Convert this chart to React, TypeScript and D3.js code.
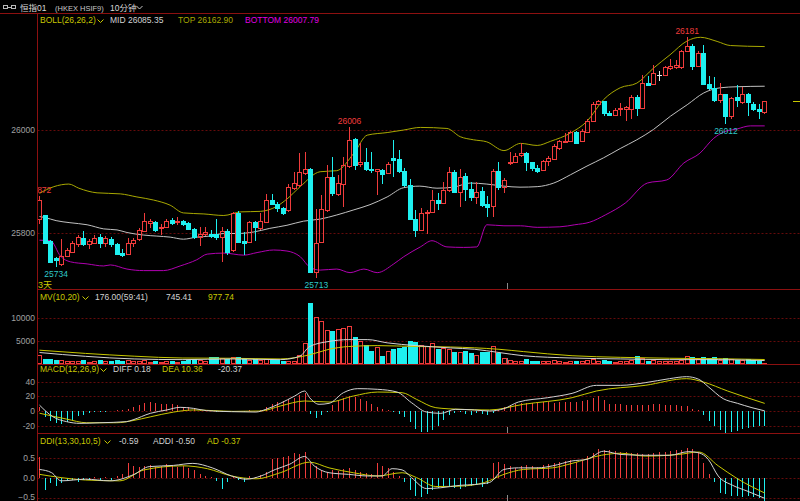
import * as d3 from 'd3'

// 10-minute candles, HSI futures (恒指01)
const OPEN = [
  25828, 25834, 25785, 25751, 25740, 25755, 25764, 25778, 25790, 25779,
  25781, 25793, 25780, 25788, 25779, 25762, 25760, 25781, 25788, 25804,
  25820, 25821, 25810, 25812, 25825, 25821, 25824, 25819, 25808, 25793,
  25799, 25799, 25798, 25792, 25804, 25767, 25838, 25785, 25783, 25822,
  25809, 25822, 25864, 25856, 25848, 25845, 25887, 25893, 25916, 25924,
  25725, 25783, 25845, 25909, 25876, 25896, 25930, 25982, 25934, 25938,
  25925, 25921, 25922, 25917, 25945, 25943, 25920, 25893, 25828, 25806,
  25838, 25841, 25865, 25859, 25883, 25919, 25880, 25911, 25885, 25870,
  25882, 25857, 25852, 25921, 25889, 25935, 25937, 25951, 25955, 25937,
  25926, 25923, 25939, 25944, 25965, 25977, 25979, 25996, 25978, 25996,
  26018, 26050, 26056, 26033, 26030, 26040, 26041, 26041, 26065, 26043,
  26091, 26089, 26106, 26106, 26120, 26122, 26122, 26153, 26164, 26125,
  26149, 26089, 26082, 26059, 26069, 26027, 26064, 26054, 26070, 26050,
  26040, 26035,
]
const HIGH = [
  25872, 25835, 25787, 25754, 25788, 25771, 25785, 25796, 25804, 25788,
  25796, 25798, 25794, 25792, 25781, 25768, 25791, 25791, 25809, 25838,
  25828, 25824, 25817, 25828, 25830, 25832, 25826, 25821, 25809, 25811,
  25812, 25806, 25828, 25812, 25807, 25841, 25843, 25802, 25824, 25824,
  25838, 25876, 25876, 25861, 25851, 25896, 25919, 25956, 25958, 25926,
  25846, 25874, 25932, 25947, 25913, 25948, 26006, 25984, 25974, 25966,
  25958, 25925, 25924, 25938, 25980, 25961, 25926, 25904, 25845, 25848,
  25845, 25883, 25878, 25900, 25929, 25922, 25924, 25917, 25900, 25900,
  25890, 25872, 25924, 25937, 25906, 25958, 25955, 25974, 25958, 25938,
  25933, 25942, 25949, 25972, 25981, 25994, 25999, 25999, 26001, 26022,
  26054, 26059, 26057, 26036, 26043, 26052, 26046, 26068, 26068, 26107,
  26104, 26126, 26114, 26124, 26137, 26135, 26156, 26181, 26167, 26153,
  26166, 26104, 26102, 26091, 26070, 26065, 26087, 26083, 26072, 26054,
  26050, 26057,
]
const LOW = [
  25817, 25779, 25741, 25734, 25735, 25753, 25762, 25773, 25775, 25768,
  25779, 25770, 25773, 25773, 25759, 25753, 25759, 25773, 25785, 25802,
  25809, 25801, 25796, 25809, 25815, 25815, 25813, 25806, 25788, 25775,
  25794, 25791, 25786, 25744, 25757, 25764, 25780, 25757, 25781, 25785,
  25806, 25820, 25854, 25841, 25835, 25841, 25884, 25890, 25913, 25725,
  25713, 25780, 25841, 25872, 25871, 25851, 25927, 25922, 25929, 25921,
  25916, 25874, 25896, 25914, 25909, 25916, 25889, 25825, 25793, 25803,
  25799, 25838, 25845, 25856, 25880, 25877, 25851, 25863, 25863, 25856,
  25850, 25832, 25832, 25883, 25878, 25932, 25935, 25948, 25921, 25921,
  25917, 25921, 25930, 25942, 25962, 25975, 25978, 25973, 25977, 25994,
  26017, 26048, 26028, 26027, 26027, 26028, 26018, 26022, 26027, 26041,
  26085, 26088, 26095, 26104, 26117, 26119, 26119, 26151, 26117, 26122,
  26087, 26078, 26054, 26052, 26012, 26022, 26044, 26050, 26027, 26036,
  26022, 26031,
]
const CLOSE = [
  25865, 25781, 25744, 25748, 25755, 25767, 25780, 25792, 25779, 25784,
  25791, 25780, 25790, 25778, 25760, 25758, 25781, 25786, 25806, 25824,
  25823, 25806, 25812, 25824, 25820, 25824, 25817, 25808, 25792, 25798,
  25802, 25795, 25792, 25804, 25764, 25839, 25783, 25781, 25822, 25811,
  25824, 25864, 25856, 25848, 25839, 25889, 25898, 25919, 25924, 25725,
  25780, 25846, 25909, 25877, 25898, 25932, 25981, 25932, 25938, 25924,
  25922, 25924, 25915, 25934, 25942, 25920, 25893, 25828, 25805, 25838,
  25841, 25865, 25859, 25883, 25919, 25880, 25909, 25885, 25869, 25880,
  25854, 25851, 25921, 25889, 25903, 25938, 25949, 25956, 25937, 25926,
  25921, 25939, 25946, 25968, 25979, 25979, 25996, 25975, 25999, 26018,
  26050, 26056, 26033, 26030, 26038, 26043, 26044, 26065, 26043, 26091,
  26088, 26111, 26106, 26122, 26124, 26126, 26154, 26164, 26124, 26149,
  26089, 26082, 26059, 26069, 26028, 26062, 26059, 26069, 26054, 26041,
  26036, 26056,
]
const VOLUME = [
  2000, 1150, 1150, 800, 950, 600, 600, 600, 800, 500,
  600, 800, 600, 600, 950, 650, 800, 600, 600, 800,
  500, 700, 500, 600, 600, 500, 600, 800, 1100, 800,
  600, 1500, 1500, 1300, 1100, 1450, 1450, 1300, 950, 1150,
  950, 1150, 950, 800, 650, 600, 600, 2000, 4600, 13200,
  10300, 9300, 7500, 7100, 7600, 7800, 8300, 5800, 4900, 4200,
  2800, 3700, 1700, 2800, 3200, 3500, 3800, 4900, 4700, 4200,
  4000, 4600, 3200, 3500, 3200, 2600, 2700, 2900, 2400, 2000,
  2700, 2700, 4000, 2400, 1300, 900, 600, 700, 1000, 700,
  600, 700, 600, 800, 600, 500, 600, 700, 600, 800,
  1000, 600, 900, 600, 500, 600, 700, 900, 1800, 1200,
  700, 900, 600, 700, 600, 600, 900, 1800, 1600, 1000,
  1500, 1300, 1500, 900, 1400, 1000, 800, 900, 1100, 800,
  700, 176,
]
const MACD_HIST = [
  6, -8, -14, -16, -18, -15, -12, -7, -5, -3,
  -2, -1, -1, 0.5, 1, 2, 3, 5, 8, 11,
  12, 11, 10, 9, 9, 8, 6, 5, 4, 2,
  1, 0.5, -1, -1.5, -2, -1, -0.5, -1, 1, 0.5,
  1, 6, 10, 12, 14, 16, 18, 22, 25, -4,
  -9, -6, -2, 8, 15, 18, 20, 19, 17, 14,
  9, 5, 3, 2, -1, -4, -8, -15, -25, -28,
  -28, -26, -20, -12, -6, -3, -2, -4, -5, -3,
  -4, -6, -3, 2, 5, 8, 10, 11, 11, 11,
  12, 12, 12, 11, 12, 12, 12, 12, 14, 15,
  18, 20, 15, 10, 9, 9, 8, 8, 8, 8,
  8, 9, 9, 8, 8, 8, 7, 7, 3, 1,
  -6, -14, -20, -26, -30, -29, -27, -25, -23, -22,
  -21, -20.37,
]
const DDI_HIST = [
  0.52, -0.3, -0.13, -0.2, -0.12, -0.08, -0.05, -0.1, -0.06, -0.04,
  0.03, -0.05, 0.02, -0.04, 0.05, 0.1, 0.37, 0.3, 0.28, 0.3,
  0.32, 0.27, 0.3, 0.35, 0.3, 0.28, 0.3, 0.25, 0.2, 0.1,
  0.05, 0.03, -0.08, -0.28, -0.1, 0.05, -0.05, -0.1, 0.05, 0.03,
  0.08, 0.15, 0.46, 0.5, 0.52, 0.55, 0.62, 0.6, 0.64, 0.38,
  0.3, 0.2, 0.15, 0.2, 0.18, 0.22, 0.25, 0.2, 0.15, 0.12,
  0.1, 0.38, 0.3, 0.25, 0.15, 0.05, -0.1, -0.3, -0.45, -0.48,
  -0.4, -0.3, -0.25, -0.22, -0.2, -0.25, -0.28, -0.22, -0.2, -0.18,
  -0.22, -0.15, 0.38, 0.4, 0.35, 0.3, 0.25, 0.3, 0.32, 0.3,
  0.28, 0.32, 0.35, 0.38, 0.4, 0.42, 0.44, 0.4, 0.42, 0.55,
  0.62, 0.72, 0.7, 0.68, 0.66, 0.65, 0.64, 0.62, 0.62, 0.6,
  0.6, 0.62, 0.63, 0.65, 0.67, 0.68, 0.7, 0.75, 0.72, 0.65,
  0.38, 0.1, -0.11, -0.36, -0.4, -0.44, -0.45, -0.46, -0.45, -0.48,
  -0.5, -0.59,
]

// indicator lines, read as [candle index, value]
const BOLL_MID: [number, number][] = [
  [0, 25832], [1, 25830], [3, 25824], [5.5, 25820], [8.6, 25816], [11.6, 25808], [14, 25806],
  [15.8, 25801], [18.8, 25796], [21.2, 25794], [23.6, 25792], [26, 25788], [28.4, 25792],
  [30.8, 25794], [33.3, 25799], [35.7, 25799], [38.7, 25802], [41.6, 25809], [44.7, 25815],
  [47.7, 25823], [50.7, 25827], [53.7, 25835], [56.8, 25845], [59.7, 25855], [62.8, 25870],
  [65.8, 25888], [68.7, 25891], [71.8, 25887], [74.8, 25889], [77.8, 25897], [80.8, 25895],
  [83.9, 25891], [86.8, 25889], [89.9, 25890], [92.9, 25897], [95.9, 25913], [98.9, 25930],
  [101.9, 25946], [104.9, 25964], [107.9, 25981], [110.9, 26001], [114, 26027], [117, 26049],
  [120, 26072], [123, 26082], [126, 26084], [131, 26085],
]
const BOLL_TOP: [number, number][] = [
  [0, 25877], [2.6, 25890], [5.3, 25895], [7.1, 25887], [10.4, 25878], [14.6, 25876],
  [17.6, 25870], [20.6, 25864], [23.6, 25854], [26, 25839], [29.7, 25837], [33.3, 25834],
  [36.3, 25841], [39.9, 25842], [42.9, 25852], [44.7, 25866], [47.1, 25890], [50.7, 25919],
  [53.7, 25921], [56.8, 25955], [59.2, 25990], [62.8, 25995], [65.8, 26000], [68.8, 26005],
  [73.6, 26003], [76, 25987], [78.4, 25981], [80.8, 25977], [83.9, 25960], [86.9, 25974],
  [89.9, 25970], [92.3, 25978], [95.9, 25994], [98.9, 26017], [101.9, 26059], [104.9, 26082],
  [107.9, 26091], [110.9, 26120], [113.9, 26146], [117, 26173], [119.4, 26180], [122.4, 26172],
  [124.8, 26164], [131, 26162],
]
const BOLL_BOTTOM: [number, number][] = [
  [0, 25786], [2, 25785], [3.8, 25755], [5.6, 25744], [8.6, 25740], [11.6, 25736], [12.8, 25738],
  [15.8, 25730], [18.8, 25727], [22.4, 25727], [25.4, 25736], [28.4, 25748], [30.3, 25759],
  [33.3, 25761], [36.9, 25757], [39.3, 25762], [42.3, 25767], [44.7, 25765], [47.1, 25754],
  [48.9, 25733], [50.7, 25728], [53.7, 25730], [56.1, 25723], [58.6, 25730], [61, 25723],
  [64, 25740], [65.8, 25754], [68.8, 25773], [70.9, 25785], [73.6, 25773], [76.6, 25772],
  [79, 25773], [80.8, 25816], [83.9, 25814], [86.9, 25814], [89.9, 25811], [94, 25812],
  [96.7, 25816], [99.4, 25821], [102.2, 25835], [105.8, 25858], [109.8, 25897], [113.3, 25903],
  [116.4, 25936], [119.3, 25955], [121.8, 25984], [123.6, 25996], [126, 26002], [128.4, 26008],
  [131, 26008],
]
const MV10: [number, number][] = [
  [0, 2500], [8.3, 1670], [17.1, 1100], [25.9, 950], [34.7, 1100], [43.5, 950], [47, 1670],
  [48.8, 3800], [52.3, 4900], [55.8, 5300], [59.3, 5300], [62.8, 4600], [68, 4000], [74.2, 3500],
  [78.6, 3200], [83, 2500], [87.4, 1800], [96.2, 1300], [105, 1100], [113.8, 950], [122.6, 950],
  [131, 745],
]
const MV20: [number, number][] = [
  [0, 3000], [8.3, 2300], [17.1, 1700], [25.9, 1300], [34.7, 1250], [43.5, 1100], [48.8, 2000],
  [52.3, 3200], [55.8, 3800], [61, 4000], [68, 3800], [74.2, 3700], [83, 3200], [87.4, 2700],
  [96.2, 1800], [105, 1450], [113.8, 1250], [122.6, 1150], [131, 978],
]
const DIFF: [number, number][] = [
  [0, 8], [2.4, -7.7], [4.9, -14.5], [7.3, -16.8], [10.9, -16], [15.7, -14.5], [16.9, -12],
  [20, -3.2], [23, 1.4], [25.4, 5], [27.8, 3.6], [30.2, 0.5], [34.7, -0.9], [39.1, -1.4],
  [40.9, 2.3], [43.5, 10.4], [46.1, 20.4], [47.9, 27.2], [48.8, 18.1], [50.5, 9.1], [52.3, 10.4],
  [54.9, 24.9], [57.5, 30.4], [61.1, 29.5], [64.6, 25.8], [67.2, 11.3], [69.9, -1.4],
  [72.5, -3.2], [75.1, 2.3], [78.6, 1.4], [81.3, 0], [83.9, 3.2], [86.5, 12.2], [91.8, 18.1],
  [96.2, 24], [100.6, 34.9], [105, 34.9], [109.4, 38.5], [113.8, 44], [116.9, 46.7],
  [119.1, 43.1], [120.8, 33.1], [123.5, 16.8], [126.1, 10.4], [128.7, 4.5], [131, 0.18],
]
const DEA: [number, number][] = [
  [0, -3], [4.9, -11], [8.5, -16], [13.9, -16], [16.9, -13], [20, -8], [24.2, -1.5], [27.8, 1.4],
  [31.4, 0.5], [35, -0.5], [40, 0], [43.5, 6.8], [47.9, 13.6], [52.3, 12.2], [56.7, 20.4],
  [61.1, 25.8], [65.5, 24.9], [68.1, 15.9], [71.6, 4.5], [76, 2.3], [81.3, 1.4], [87.4, 9.1],
  [96.2, 18.1], [100.6, 27.2], [109.4, 34.9], [116.9, 44], [119.9, 39.5], [124.3, 27.2],
  [131, 10.36],
]
const ADDI: [number, number][] = [
  [0, 0.21], [2.2, 0.13], [3.9, -0.07], [8.3, -0.03], [12.7, -0.07], [17.1, 0.09], [19.8, 0.28],
  [24.2, 0.31], [27.7, 0.36], [31.2, 0.25], [34.7, 0.05], [37.3, -0.03], [40, 0.05], [42.6, 0.21],
  [45.2, 0.34], [47.9, 0.53], [49.6, 0.3], [52.3, 0.13], [55.8, 0.09], [59.3, 0.05], [61.9, 0.05],
  [63.7, 0.23], [65.5, 0.2], [67.2, 0.01], [69.9, -0.26], [72.5, -0.24], [76, -0.18],
  [78.6, -0.16], [81.3, -0.11], [83.9, 0.21], [86.5, 0.25], [90, 0.25], [92.7, 0.3], [96.2, 0.42],
  [98.9, 0.46], [101.9, 0.66], [105, 0.58], [109.4, 0.56], [113.8, 0.56], [117.3, 0.65],
  [119.1, 0.62], [120.8, 0.46], [122.6, 0.05], [125.2, -0.18], [127.8, -0.32], [131, -0.5],
]
const AD: [number, number][] = [
  [0, 0.09], [3.9, 0.01], [8.3, -0.05], [14.5, -0.07], [18.9, 0.2], [25.9, 0.3], [30.3, 0.23],
  [34.7, 0.05], [39.1, -0.02], [43.5, 0.13], [48.8, 0.39], [52.3, 0.25], [56.7, 0.13], [61.1, 0.05],
  [65.5, 0.13], [68.1, 0.01], [71.6, -0.21], [76, -0.2], [80.4, -0.11], [83.9, 0.09], [87.4, 0.21],
  [92.7, 0.25], [96.2, 0.36], [101.5, 0.56], [105, 0.61], [109.4, 0.54], [115.5, 0.58],
  [119.1, 0.64], [122.6, 0.3], [126.1, -0.02], [131, -0.37],
]

const PRICE_TICKS = [25800, 26000]
const VOL_TICKS = [5000, 10000]
const MACD_TICKS = [-20, 0, 20, 40]
const DDI_TICKS = [-0.5, 0, 0.5]
const HIGH_MARKS = [0, 56, 117]
const LOW_MARKS = [3, 50, 124]
const SESSION_BREAKS = [84.5]

const RED = '#f03c3c'
const CYAN = '#1ef0f0'
const WHITE = '#d2d2d2'
const YELLOW = '#c8c800'
const OLIVE = '#a8a800'
const MAGENTA = '#b000b0'
const GRID = '#650b0b'
const FRAME = '#8c1010'
const AXIS_TXT = '#a0a0a0'
const FONT = "'Liberation Sans', Arial, 'Noto Sans CJK SC', sans-serif"

const W = 800
const H = 501
const AXIS_X = 37.5

const chevron = (x0: number, y0: number, color: string) => (
  <path d={`M${x0},${y0} L${x0 + 3},${y0 + 3} L${x0 + 6},${y0}`} fill="none" stroke={color} strokeWidth={1} />
)

export default function App() {
  const n = OPEN.length
  const x = d3.scaleLinear().domain([0, n - 1]).range([39.5, 764.7])
  const yP = d3.scaleLinear().domain([25800, 26000]).range([233, 130])
  const yV = d3.scaleLinear().domain([0, 10000]).range([364, 318])
  const yM = d3.scaleLinear().domain([-20, 40]).range([425.7, 381.6])
  const yD = d3.scaleLinear().domain([-0.5, 0.5]).range([498.3, 457.7])

  const path = (pts: [number, number][], y: d3.ScaleLinear<number, number>) =>
    d3.line<[number, number]>().x(d => x(d[0])).y(d => y(d[1])).curve(d3.curveMonotoneX)(pts) ?? ''

  const px = (i: number) => Math.floor(x(i)) + 0.5
  const snap = (v: number) => Math.round(v) + 0.5

  const grid = (ticks: number[], y: d3.ScaleLinear<number, number>, fmt: (v: number) => string) =>
    ticks.map(t => (
      <g key={t}>
        <line x1={AXIS_X} x2={W} y1={snap(y(t))} y2={snap(y(t))} stroke={GRID} strokeDasharray="2,2" />
        <text x={35} y={Math.min(y(t) + 3, H - 1)} textAnchor="end" fill={AXIS_TXT} fontSize={8.5}>{fmt(t)}</text>
      </g>
    ))

  const hist = (vals: number[], y: d3.ScaleLinear<number, number>) =>
    vals.map((v, i) => (
      <line key={i} x1={px(i)} x2={px(i)} y1={y(0)} y2={y(v)} stroke={v >= 0 ? RED : CYAN} strokeWidth={1} />
    ))

  const candles = OPEN.map((o, i) => {
    const c = CLOSE[i]
    const cx = px(i)
    const top = snap(yP(Math.max(o, c)))
    const bot = snap(yP(Math.min(o, c)))
    const hi = yP(HIGH[i])
    const lo = yP(LOW[i])
    if (o === c) {
      return (
        <g key={i} stroke="#e6e6e6">
          <line x1={cx} x2={cx} y1={hi} y2={lo} />
          <line x1={cx - 2.5} x2={cx + 2.5} y1={top} y2={top} />
        </g>
      )
    }
    if (c > o) {
      return (
        <g key={i} stroke={RED} fill="none">
          <line x1={cx} x2={cx} y1={hi} y2={top} />
          <line x1={cx} x2={cx} y1={bot} y2={lo} />
          <rect x={cx - 2} y={top} width={4} height={Math.max(bot - top, 1)} />
        </g>
      )
    }
    return (
      <g key={i}>
        <line x1={cx} x2={cx} y1={hi} y2={lo} stroke={CYAN} />
        <rect x={cx - 2.5} y={top - 0.5} width={5} height={Math.max(bot - top + 1, 1)} fill={CYAN} />
      </g>
    )
  })

  const volBars = VOLUME.map((v, i) => {
    const cx = px(i)
    const top = snap(yV(v))
    const base = yV(0)
    return CLOSE[i] >= OPEN[i] ? (
      <rect key={i} x={cx - 2} y={top} width={4} height={Math.max(base - top - 0.5, 0.5)} fill="none" stroke={RED} />
    ) : (
      <rect key={i} x={cx - 2.5} y={top - 0.5} width={5} height={Math.max(base - top, 0.5)} fill={CYAN} />
    )
  })

  const last = n - 1

  return (
    <div style={{ position: 'fixed', left: 0, top: 0, width: W, height: H, background: '#000' }}>
      <svg width={W} height={H} style={{ display: 'block' }} fontFamily={FONT}>
        <defs>
          <clipPath id="main-clip">
            <rect x={AXIS_X + 0.5} y={14} width={W - AXIS_X} height={275} />
          </clipPath>
          <clipPath id="sub-clip">
            <rect x={AXIS_X + 0.5} y={289} width={W - AXIS_X} height={212} />
          </clipPath>
        </defs>
        <rect width={W} height={H} fill="#000" />

        {/* header bar */}
        <g stroke="#b8b8b8" fill="none">
          <rect x={3.5} y={5.5} width={4} height={3} />
          <rect x={11.5} y={5.5} width={4} height={3} />
          <line x1={7.5} x2={11.5} y1={7.5} y2={7.5} />
        </g>
        <text x={20} y={11} fill="#d8d8d8" fontSize={8.5}>恒指01</text>
        <text x={55} y={10.5} fill="#c8c8c8" fontSize={7.5}>(HKEX HSIF9)</text>
        <text x={110} y={11} fill="#d8d8d8" fontSize={8.5}>10分钟</text>
        {chevron(136.5, 6, '#c8c8c8')}
        <line x1={0} x2={W} y1={13.5} y2={13.5} stroke={FRAME} />

        {/* grids + axis labels */}
        {grid(PRICE_TICKS, yP, d => `${d}`)}
        {grid(VOL_TICKS, yV, d => `${d}`)}
        {grid(MACD_TICKS, yM, d => `${d}`)}
        {grid(DDI_TICKS, yD, d3.format('.1f'))}

        {/* main: BOLL + candles */}
        <g clipPath="url(#main-clip)">
          <path d={path(BOLL_TOP, yP)} fill="none" stroke={OLIVE} strokeWidth={1} />
          <path d={path(BOLL_MID, yP)} fill="none" stroke="#c0c0c0" strokeWidth={1} />
          <path d={path(BOLL_BOTTOM, yP)} fill="none" stroke={MAGENTA} strokeWidth={1} />
          <g shapeRendering="crispEdges">{candles}</g>
          {HIGH_MARKS.map(i => (
            <text key={`h${i}`} x={x(i)} y={yP(HIGH[i]) - 2.5} textAnchor="middle" fill={RED} fontSize={8.5}>
              {HIGH[i]}
            </text>
          ))}
          {LOW_MARKS.map(i => (
            <text key={`l${i}`} x={x(i)} y={yP(LOW[i]) + 10} textAnchor="middle" fill="#2ec8c8" fontSize={8.5}>
              {LOW[i]}
            </text>
          ))}
          <text x={38} y={288} fill={YELLOW} fontSize={9}>3天</text>
        </g>
        <line x1={793} x2={W} y1={snap(yP(CLOSE[last]))} y2={snap(yP(CLOSE[last]))} stroke={YELLOW} />

        {/* sub panels */}
        <g clipPath="url(#sub-clip)">
          <g shapeRendering="crispEdges">{volBars}</g>
          <path d={path(MV20, yV)} fill="none" stroke={YELLOW} />
          <path d={path(MV10, yV)} fill="none" stroke={WHITE} />

          <g shapeRendering="crispEdges">{hist(MACD_HIST, yM)}</g>
          <path d={path(DEA, yM)} fill="none" stroke={YELLOW} />
          <path d={path(DIFF, yM)} fill="none" stroke={WHITE} />

          <g shapeRendering="crispEdges">{hist(DDI_HIST, yD)}</g>
          <path d={path(AD, yD)} fill="none" stroke={YELLOW} />
          <path d={path(ADDI, yD)} fill="none" stroke={WHITE} />
        </g>

        {/* session break ticks */}
        {SESSION_BREAKS.map(b =>
          [289, 364, 433, 501].map(yb => (
            <line key={`${b}-${yb}`} x1={px(b)} x2={px(b)} y1={yb - 6} y2={yb} stroke="#8a8a8a" />
          ))
        )}

        {/* frame */}
        <g stroke={FRAME} shapeRendering="crispEdges">
          <line x1={AXIS_X} x2={AXIS_X} y1={13.5} y2={H} />
          <line x1={AXIS_X} x2={W} y1={289.5} y2={289.5} />
          <line x1={AXIS_X} x2={W} y1={364.5} y2={364.5} />
          <line x1={AXIS_X} x2={W} y1={433.5} y2={433.5} />
        </g>

        {/* legends */}
        <g fontSize={8.5}>
          <text x={40} y={23} fill={YELLOW}>BOLL(26,26,2)</text>
          {chevron(97.5, 19.5, YELLOW)}
          <text x={110} y={23} fill={WHITE}>MID 26085.35</text>
          <text x={178} y={23} fill={OLIVE}>TOP 26162.90</text>
          <text x={245} y={23} fill="#e000e0">BOTTOM 26007.79</text>

          <text x={40} y={300} fill={YELLOW}>MV(10,20)</text>
          {chevron(82.5, 296.5, YELLOW)}
          <text x={95} y={300} fill={WHITE}>176.00(59:41)</text>
          <text x={166} y={300} fill={WHITE}>745.41</text>
          <text x={208} y={300} fill={YELLOW}>977.74</text>

          <text x={40} y={372} fill={YELLOW}>MACD(12,26,9)</text>
          {chevron(100.5, 368.5, YELLOW)}
          <text x={113} y={372} fill={WHITE}>DIFF 0.18</text>
          <text x={162} y={372} fill={YELLOW}>DEA 10.36</text>
          <text x={218} y={372} fill={WHITE}>-20.37</text>

          <text x={40} y={444} fill={YELLOW}>DDI(13,30,10,5)</text>
          {chevron(104.5, 440.5, YELLOW)}
          <text x={119} y={444} fill={WHITE}>-0.59</text>
          <text x={153} y={444} fill={WHITE}>ADDI -0.50</text>
          <text x={207} y={444} fill={YELLOW}>AD -0.37</text>
        </g>
      </svg>
    </div>
  )
}
